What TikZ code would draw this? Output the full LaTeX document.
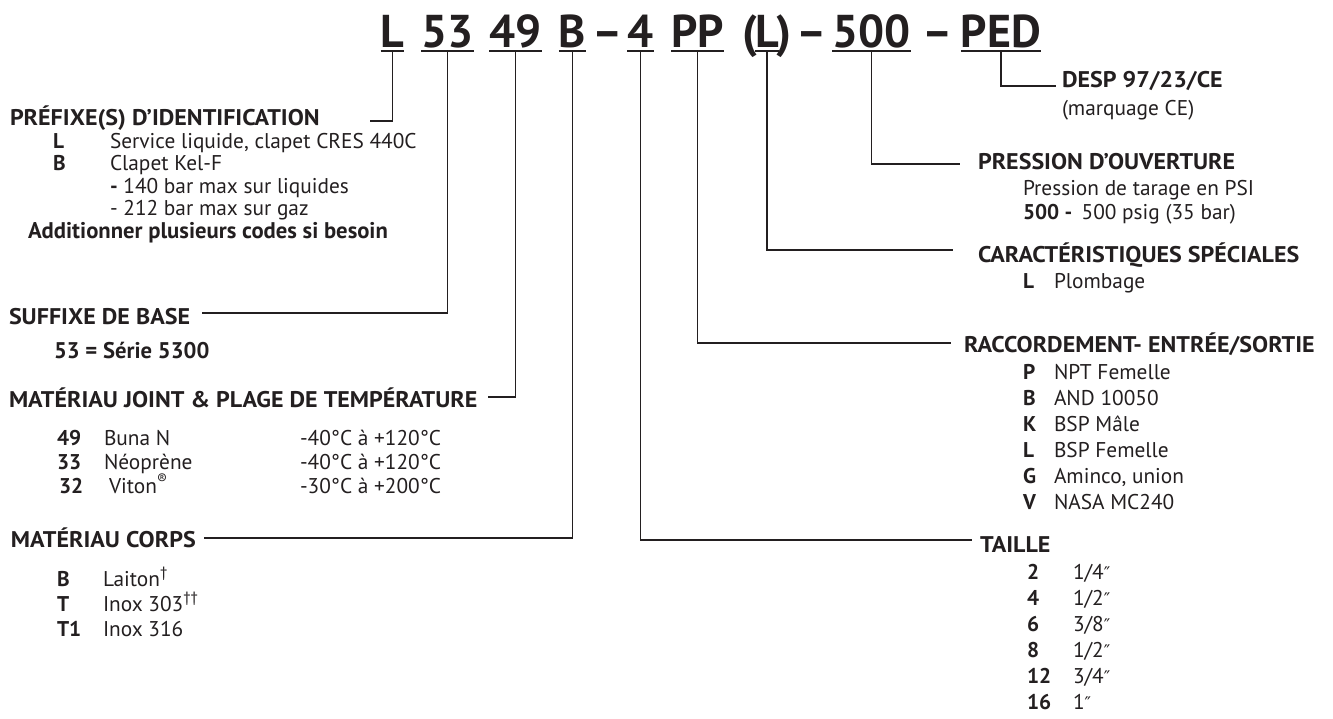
\documentclass[tikz,border=0pt]{standalone}
\usepackage{fontspec}
\setmainfont{PT Sans}
\newfontfamily\hfont{PT Sans}[FakeStretch=1.06]
\newfontfamily\dvfont{DejaVu Sans}
\definecolor{ink}{HTML}{231F20}
\newcommand{\dpr}{{\dvfont\fontsize{13}{13}\selectfont ″}}
\begin{document}
\begin{tikzpicture}[x=0.75pt,y=-0.75pt,
  every node/.style={inner sep=0pt, outer sep=0pt, text=ink, anchor=base west},
  codetxt/.style={font=\bfseries\fontsize{34.5}{34.5}\selectfont, anchor=base},
  head/.style={font=\hfont\bfseries\fontsize{17}{20}\selectfont},
  boldlc/.style={font=\bfseries\fontsize{17}{20}\selectfont},
  bcode/.style={font=\bfseries\fontsize{16}{19}\selectfont},
  bodyt/.style={font=\fontsize{16}{19}\selectfont},
  uline/.style={draw=ink, line width=1.4pt},
  link/.style={draw=ink, line width=1pt}]
\useasboundingbox (0,0) rectangle (1333,718);

% ---- code line ----
\node[codetxt] (cL)   at (392.5,47) {L};
\node[codetxt] (c53)  at (447.5,47) {53};
\node[codetxt] (c49)  at (515.5,47) {49};
\node[codetxt] (cB)   at (572.5,47) {B};
\node[codetxt] (d1)   at (607.5,47) {–};
\node[codetxt] (c4)   at (640.5,47) {4};
\node[codetxt] (cPP)  at (697.5,47) {PP};
\node[codetxt] (po)   at (750,47) {(};
\node[codetxt] (cLs)  at (767,47) {L};
\node[codetxt] (pc)   at (784,47) {)};
\node[codetxt] (d2)   at (812,47) {–};
\node[codetxt] (c500) at (871.5,47) {500};
\node[codetxt] (d3)   at (938,47) {–};
\node[codetxt] (cPED) at (1001,47) {PED};
\foreach \n in {cL,c53,c49,cB,c4,cPP,cLs,c500,cPED}
  \draw[uline] ([yshift=-3pt]\n.base west) -- ([yshift=-3pt]\n.base east);

% ---- left column ----
\node[head] (hPref) at (10,125) {PRÉFIXE(S) D’IDENTIFICATION};
\node[bcode] (pL) at (53,148) {L};
\node[bodyt] (pLd) at (110,148) {Service liquide, clapet CRES 440C};
\node[bcode] (pB) at (53,170.5) {B};
\node[bodyt] (pBd) at (110,170.5) {Clapet Kel-F};
\node[bodyt] (pB1) at (110,193) {\textbf{-} 140 bar max sur liquides};
\node[bodyt] (pB2) at (110,215.5) {- 212 bar max sur gaz};
\node[boldlc] (pAdd) at (28,238) {Additionner plusieurs codes si besoin};

\node[head] (hSuf) at (9,324) {SUFFIXE DE BASE};
\node[boldlc] (sufv) at (54,358) {53 = Série 5300};

\node[head] (hJoint) at (9,407) {MATÉRIAU JOINT \& PLAGE DE TEMPÉRATURE};
\node[bcode] (j49) at (57,445) {49};
\node[bodyt] (j49n) at (104,445) {Buna N};
\node[bodyt] (j49t) at (300,445) {-40°C à +120°C};
\node[bcode] (j33) at (57,469) {33};
\node[bodyt] (j33n) at (104,469) {Néoprène};
\node[bodyt] (j33t) at (300,469) {-40°C à +120°C};
\node[bcode] (j32) at (59,493) {32};
\node[bodyt] (j32n) at (109,493) {Viton\textsuperscript{®}};
\node[bodyt] (j32t) at (300,493) {-30°C à +200°C};

\node[head] (hCorps) at (11,547) {MATÉRIAU CORPS};
\node[bcode] (mB) at (57,586) {B};
\node[bodyt] (mBd) at (103,586) {Laiton\textsuperscript{†}};
\node[bcode] (mT) at (57,611) {T};
\node[bodyt] (mTd) at (103,611) {Inox 303\textsuperscript{††}};
\node[bcode] (mT1) at (57,636) {T1};
\node[bodyt] (mT1d) at (103,636) {Inox 316};

% ---- right column ----
\node[head] (hDesp) at (1062,87) {DESP 97/23/CE};
\node[bodyt] (desp2) at (1062,115) {(marquage CE)};

\node[head] (hPres) at (978,169) {PRESSION D’OUVERTURE};
\node[bodyt] (pr1) at (1023,195) {Pression de tarage en PSI};
\node[bodyt] (pr2) at (1023,219) {\textbf{500 -}\, 500 psig (35 bar)};

\node[head] (hCar) at (978,262) {CARACTÉRISTIQUES SPÉCIALES};
\node[bcode] (caL) at (1023,288) {L};
\node[bodyt] (caLd) at (1054,288) {Plombage};

\node[head] (hRac) at (964,352) {RACCORDEMENT- ENTRÉE/SORTIE};
\foreach \c/\t/\yy [count=\i] in {P/NPT Femelle/379, B/AND 10050/405, K/BSP Mâle/431, L/BSP Femelle/457, G/{Aminco, union}/483, V/NASA MC240/509}{
  \node[bcode] (rc\i) at (1023,\yy) {\c};
  \node[bodyt] (rd\i) at (1054,\yy) {\t};
}

\node[head] (hTai) at (980,552) {TAILLE};
\node[bcode] (t1c) at (1027,579) {2};  \node[bodyt] (t1d) at (1073,579) {1/4\dpr};
\node[bcode] (t2c) at (1027,605) {4};  \node[bodyt] (t2d) at (1073,605) {1/2\dpr};
\node[bcode] (t3c) at (1027,631) {6};  \node[bodyt] (t3d) at (1073,631) {3/8\dpr};
\node[bcode] (t4c) at (1027,657) {8};  \node[bodyt] (t4d) at (1073,657) {1/2\dpr};
\node[bcode] (t5c) at (1027,683) {12}; \node[bodyt] (t5d) at (1073,683) {3/4\dpr};
\node[bcode] (t6c) at (1027,709) {16}; \node[bodyt] (t6d) at (1073,709) {1\dpr};

% ---- connector ends ----
\coordinate (eL)   at (370,121);
\coordinate (e53)  at (202,313);
\coordinate (e49)  at (488,397);
\coordinate (eB)   at (204,538);
\coordinate (e4)   at (972,540);
\coordinate (ePP)  at (951,343);
\coordinate (eLs)  at (953,250);
\coordinate (e500) at (960,164);
\coordinate (ePED) at (1056,86);

\draw[link] ([yshift=-3pt]cL.base)   |- (eL);
\draw[link] ([yshift=-3pt]c53.base)  |- (e53);
\draw[link] ([yshift=-3pt]c49.base)  |- (e49);
\draw[link] ([yshift=-3pt]cB.base)   |- (eB);
\draw[link] ([yshift=-3pt]c4.base)   |- (e4);
\draw[link] ([yshift=-3pt]cPP.base)  |- (ePP);
\draw[link] ([yshift=-3pt]cLs.base)  |- (eLs);
\draw[link] ([yshift=-3pt]c500.base) |- (e500);
\draw[link] ([yshift=-3pt]cPED.base) |- (ePED);
\end{tikzpicture}
\end{document}
